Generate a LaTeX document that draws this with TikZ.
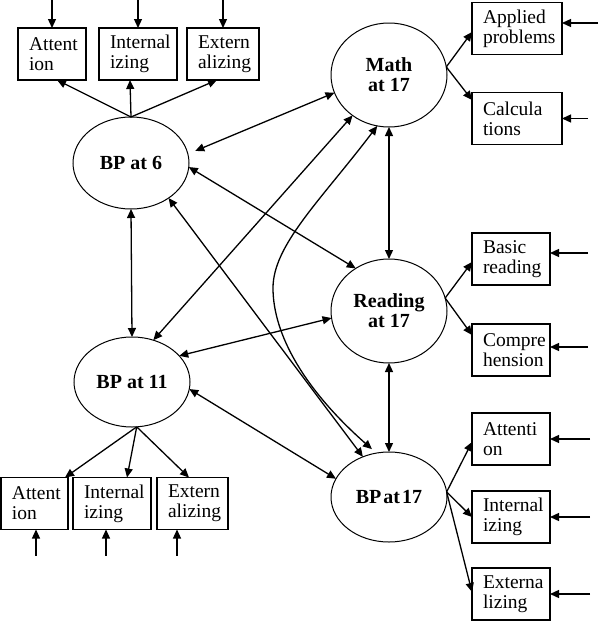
\documentclass[tikz,border=0pt]{standalone}
\usepackage{fontspec}
\setmainfont{Liberation Serif}
\usetikzlibrary{arrows.meta,shapes.geometric}
\begin{document}
\begin{tikzpicture}[x=1pt,y=-1pt,
  lat/.style={ellipse, draw, line width=1pt, minimum width=116pt, inner sep=0pt, outer sep=0pt, align=center, font=\bfseries\fontsize{20pt}{20pt}\selectfont},
  ind/.style={rectangle, draw, line width=1.1pt, minimum height=52pt, inner xsep=11pt, inner ysep=0pt, outer sep=0pt, align=left, font=\fontsize{19.5pt}{20pt}\selectfont},
  con/.style={line width=1.3pt, {Triangle[length=9pt,width=8pt]}-{Triangle[length=9pt,width=8pt]}},
  one/.style={line width=1.3pt, -{Triangle[length=9pt,width=8pt]}}
]
\useasboundingbox (0,0) rectangle (600,621);
% latent variables
\node[lat, minimum height=92pt] (bp6) at (131,163) {BP at 6};
\node[lat, minimum height=90pt] (bp11) at (132,382) {BP at 11};
\node[lat, minimum height=104pt] (m17) at (389,75) {Math\\at 17};
\node[lat, minimum height=104pt] (r17) at (389,311) {Reading\\at 17};
\node[lat, minimum height=90pt] (bp17) at (389,497) {\spaceskip=0.1em BP at 17};
% indicators
\node[ind, text width=46pt] (a6) at (52,54) {Attent\\ion};
\node[ind, text width=56pt] (i6) at (138,54) {Internal\\izing};
\node[ind, text width=50pt] (e6) at (223,54) {Extern\\alizing};
\node[ind, text width=68pt] (ap) at (517,28.5) {Applied\\problems};
\node[ind, text width=68pt] (ca) at (517,118.5) {Calcula\\tions};
\node[ind, text width=56pt] (br) at (511,259) {Basic\\reading};
\node[ind, text width=56pt] (co) at (511,350) {Compre\\hension};
\node[ind, text width=56pt] (a17) at (511,439) {Attenti\\on};
\node[ind, text width=56pt] (i17) at (511,517) {Internal\\izing};
\node[ind, text width=56pt] (e17) at (511,594) {Externa\\lizing};
\node[ind, text width=45pt] (a11) at (34.5,503.5) {Attent\\ion};
\node[ind, text width=56pt] (i11) at (112,503.5) {Internal\\izing};
\node[ind, text width=49pt] (e11) at (192.5,503.5) {Extern\\alizing};
% error arrows
\draw[one] ([yshift=28pt]a6.north) -- (a6.north);
\draw[one] ([yshift=28pt]i6.north) -- (i6.north);
\draw[one] ([yshift=28pt]e6.north) -- (e6.north);
\draw[one] ([xshift=36pt,yshift=5.5pt]ap.east) -- ([yshift=5.5pt]ap.east);
\draw[one] ([xshift=26pt]ca.east) -- (ca.east);
\draw[one] ([xshift=38pt,yshift=6pt]br.east) -- ([yshift=6pt]br.east);
\draw[one] ([xshift=38pt,yshift=3pt]co.east) -- ([yshift=3pt]co.east);
\draw[one] ([xshift=40pt]a17.east) -- (a17.east);
\draw[one] ([xshift=40pt]i17.east) -- (i17.east);
\draw[one] ([xshift=40pt]e17.east) -- (e17.east);
\draw[one] ([xshift=1.5pt,yshift=-26pt]a11.south) -- ([xshift=1.5pt]a11.south);
\draw[one] ([xshift=-6pt,yshift=-26pt]i11.south) -- ([xshift=-6pt]i11.south);
\draw[one] ([xshift=-15.5pt,yshift=-26pt]e11.south) -- ([xshift=-15.5pt]e11.south);
% loadings
\draw[one] (bp6.north) -- ([xshift=5pt]a6.south);
\draw[one] (bp6.north) -- ([xshift=-8pt]i6.south);
\draw[one] (bp6.north) -- ([xshift=-6pt]e6.south);
\draw[one] (bp11.-84) -- ([xshift=30.5pt]a11.north);
\draw[one] (bp11.-84) -- ([xshift=15pt]i11.north);
\draw[one] (bp11.-84) -- ([xshift=-3.5pt]e11.north);
\draw[one] (m17.8) -- ([yshift=-3.5pt]ap.west);
\draw[one] (m17.8) -- ([yshift=18.5pt]ca.west);
\draw[one] (r17.13) -- ([yshift=-3pt]br.west);
\draw[one] (r17.13) -- ([yshift=15pt]co.west);
\draw[one] (bp17.5) -- ([yshift=-3pt]a17.west);
\draw[one] (bp17.5) -- (i17.west);
\draw[one] (bp17.5) -- ([yshift=2pt]e17.west);
% correlations
\draw[con] (bp6.south) -- (bp11.north);
\draw[con, shorten <=8pt] (bp6.9) -- (m17.198);
\draw[con] (bp6.-4) -- (r17.128);
\draw[con] (bp6.-43) -- (bp17.123);
\draw[con] (bp11.63) -- (m17.228);
\draw[con] (bp11.29) -- (r17.187);
\draw[con] (bp11.-7) -- (bp17.161);
\draw[con] (m17.south) -- (r17.north);
\draw[con] (r17.south) -- (bp17.north);
\coordinate (cm) at (273,288);
\draw[con, shorten >=6pt] (m17.257) .. controls (321,200) and (273,245) .. (cm) .. controls (273,335) and (305,390) .. (bp17.106);
\end{tikzpicture}
\end{document}
